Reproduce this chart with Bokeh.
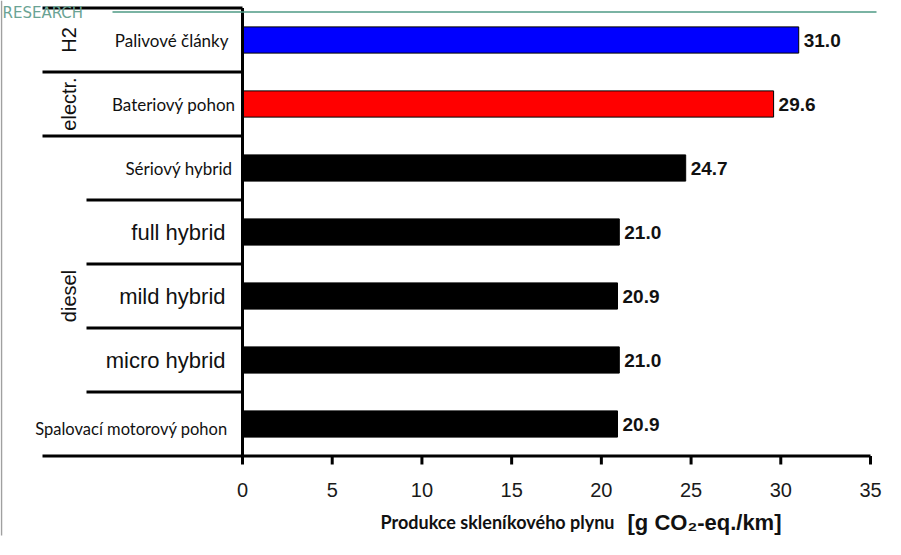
import math
from bokeh.plotting import figure
from bokeh.models import Range1d, ColumnDataSource
from bokeh.core.properties import value
from bokeh.embed import file_html
from bokeh.resources import INLINE

# ---------------- data ----------------
categories = ["Palivové články", "Bateriový pohon", "Sériový hybrid",
              "full hybrid", "mild hybrid", "micro hybrid",
              "Spalovací motorový pohon"]
values = [31.0, 29.6, 24.7, 21.0, 20.9, 21.0, 20.9]
bar_colors = ["#0000ff", "#ff0000", "#000000", "#000000", "#000000", "#000000", "#000000"]
groups = ["H2", "electr.", "diesel"]
group_sizes = [1, 1, 5]
x_ticks = [0, 5, 10, 15, 20, 25, 30, 35]
x_title = "Produkce skleníkového plynu"
x_unit = "[g CO₂-eq./km]"
brand = "RESEARCH"

# ---------------- styles ----------------
label_fonts = ["Lato", "Lato", "Lato", "Liberation Sans", "Liberation Sans",
               "Liberation Sans", "Lato"]
label_sizes = ["17px", "17px", "17px", "22px", "22px", "22px", "16.5px"]
label_dx = [-14, -7, -10, -17, -17, -17, -15]
label_dy = [0, 0, 0, 0, 0, 0, 5]

# ---------------- geometry (pixel layout of the picture) ----------------
W, H = 885, 539
n = len(categories)
x0_px = 242.0                 # screen x of value 0
x_px_per = (870.0 - 242.0) / 35.0
y_top_px = 7.5                # screen y of the top boundary
y_bot_px = 455.5              # screen y of the value axis
y_px_per = (y_bot_px - y_top_px) / n

x_range = Range1d(-x0_px / x_px_per, (W - x0_px) / x_px_per)
y_range = Range1d(-(H - y_bot_px) / y_px_per, n + y_top_px / y_px_per)


def xd(px):
    return (px - x0_px) / x_px_per


def yd(py):
    return (y_bot_px - py) / y_px_per


p = figure(width=W, height=H, x_range=x_range, y_range=y_range,
           output_backend="svg", toolbar_location=None,
           x_axis_location=None, y_axis_location=None,
           min_border_left=0, min_border_right=0, min_border_top=0,
           min_border_bottom=0, outline_line_color=None,
           background_fill_color="white", border_fill_color="white")
p.xgrid.visible = False
p.ygrid.visible = False

# bars
ys = [n - 0.5 - i for i in range(n)]
src = ColumnDataSource(dict(y=ys, v=values, color=bar_colors,
                            vt=[f"{v:.1f}" for v in values],
                            label=categories, font=label_fonts,
                            size=label_sizes, dx=label_dx, dy=label_dy))
p.hbar(y="y", left=0, right="v", height=0.41, fill_color="color",
       line_color="black", line_width=1, source=src)

# value labels
p.text(x="v", y="y", text="vt", x_offset=5, text_baseline="middle",
       text_align="left", text_font=value("Liberation Sans"),
       text_font_style="bold", text_font_size="19px", text_color="#111111",
       source=src)

# category labels
p.text(x=0, y="y", text="label", x_offset="dx", y_offset="dy",
       text_align="right", text_baseline="middle", text_font="font",
       text_font_size="size", text_color="#111111", source=src)

# separators + value axis line
bounds = [n]
acc = n
for g in group_sizes:
    acc -= g
    bounds.append(acc)
x_full = xd(42)
x_short = xd(86)
seg_x0, seg_y, seg_x1 = [], [], []
for b in range(n + 1):
    seg_x0.append(x_full if b in bounds else x_short)
    seg_y.append(b)
    seg_x1.append(x_ticks[-1] if b == 0 else 0)
p.segment(x0=seg_x0, y0=seg_y, x1=seg_x1, y1=seg_y, line_color="black",
          line_width=3)
# category axis line
p.segment(x0=[0], y0=[0], x1=[0], y1=[n], line_color="black", line_width=3)

# value-axis ticks and tick labels
p.segment(x0=x_ticks, y0=[0] * len(x_ticks), x1=x_ticks,
          y1=[yd(464)] * len(x_ticks), line_color="black", line_width=3)
p.text(x=x_ticks, y=[yd(489)] * len(x_ticks), text=[str(t) for t in x_ticks],
       text_align="center", text_baseline="middle",
       text_font=value("Liberation Sans"), text_font_size="20px",
       text_color="#1a1a1a")

# axis title
p.text(x=[xd(614)], y=[yd(521)], text=[x_title], text_align="right",
       text_baseline="middle", text_font=value("Lato"),
       text_font_style="bold", text_font_size="18px", text_color="#111111")
p.text(x=[xd(627)], y=[yd(522)], text=[x_unit], text_align="left",
       text_baseline="middle", text_font=value("Liberation Sans"),
       text_font_style="bold", text_font_size="22px", text_color="#111111")

# group labels
gcent = []
acc = n
for g in group_sizes:
    gcent.append(acc - g / 2.0)
    acc -= g
p.text(x=[xd(68)] * len(groups), y=gcent, text=groups, angle=math.pi / 2,
       text_align="center", text_baseline="alphabetic",
       text_font=value("Liberation Sans"), text_font_size="20px",
       text_color="#111111")

# brand line, brand text and picture border
p.segment(x0=[xd(112)], y0=[yd(11.5)], x1=[xd(876)], y1=[yd(11.5)],
          line_color="#4e9a84", line_width=1.5)
p.text(x=[xd(2)], y=[yd(12.5)], text=[brand], text_align="left",
       text_baseline="alphabetic", text_font=value("DejaVu Sans"),
       text_font_size="15px", text_color="#6aa394")
p.segment(x0=[xd(1)], y0=[yd(0)], x1=[xd(1)], y1=[yd(535)],
          line_color="#a0a0a0", line_width=1.5)

open("out.html", "w").write(file_html(p, INLINE))
